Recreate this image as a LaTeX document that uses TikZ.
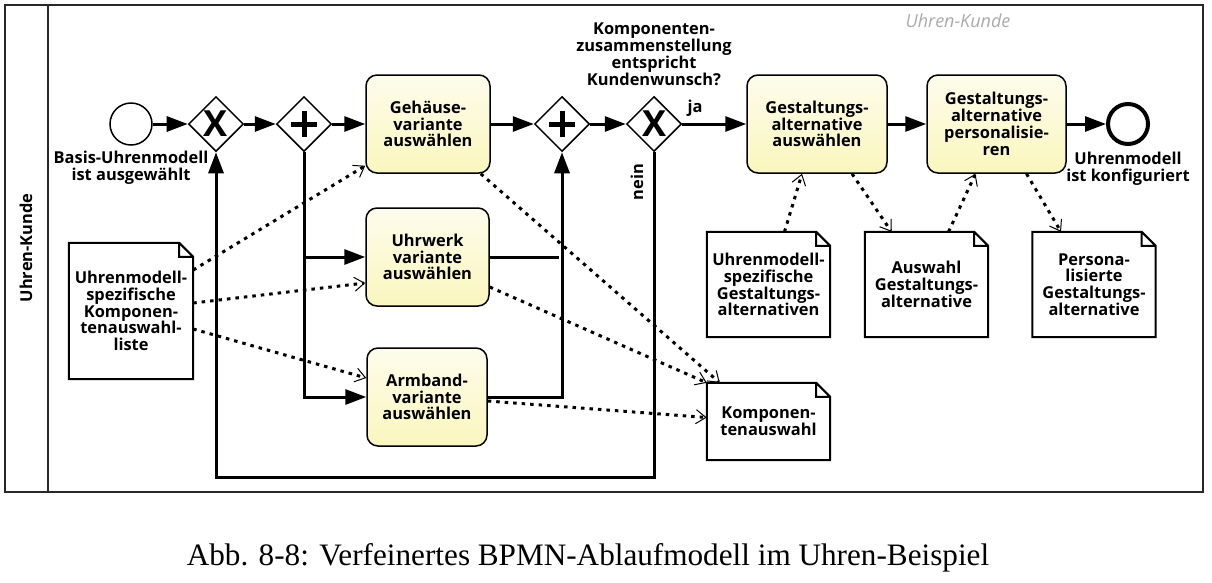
\documentclass[tikz,border=0pt]{standalone}
\usepackage{fontspec}
\setmainfont{Open Sans}
\newfontfamily\captionfont{Liberation Serif}
\usetikzlibrary{shapes.geometric,arrows.meta,positioning}
\definecolor{taskfill}{RGB}{250,246,190}
\definecolor{framegray}{RGB}{40,40,40}
\definecolor{markgray}{RGB}{170,170,170}

\begin{document}
\begin{tikzpicture}[x=1pt, y=-1pt, lbl/.style = {align=center, inner sep=0pt, font=\fontsize{16.4}{16.8}\selectfont\bfseries}, task/.style = {shape=rectangle, draw, line width=1.5pt, rounded corners=11pt, align=center, top color=taskfill!30, bottom color=taskfill, minimum width=124pt, minimum height=98pt, font=\fontsize{16.4}{16.8}\selectfont\bfseries}, gate/.style = {shape=diamond, draw, line width=1.5pt, fill=white, minimum width=55pt, minimum height=55pt, inner sep=0pt}, xorgate/.style = {gate, font=\fontsize{36}{36}\selectfont\bfseries}, andgate/.style = {gate, path picture={\draw[line width=5pt] ([xshift=-13pt]path picture bounding box.center) -- ([xshift=13pt]path picture bounding box.center) ([yshift=-13pt]path picture bounding box.center) -- ([yshift=13pt]path picture bounding box.center);}}, event/.style = {shape=circle, draw, fill=white, minimum size=42pt, inner sep=0pt}, doc/.style = {shape=rectangle, align=center, fill=white, minimum width=123pt, font=\fontsize{16.4}{16.8}\selectfont\bfseries}, docline/.style = {line width=2pt, line join=miter}, flow/.style = {line width=3pt, -{Triangle[length=21pt, width=15pt]}}, assoc/.style = {line width=3pt, dash pattern=on 3.5pt off 5pt, -{Straight Barb[length=10pt, width=14pt, line width=1pt]}}]
	\useasboundingbox (0,0) rectangle (1212,582);
	\draw[framegray, line width=2pt] (5,5) rectangle (1203,492);
	\draw[framegray, line width=2pt] (48,5) -- (48,492);
	\node[lbl, rotate=90] (lane) at (26,248) {Uhren-Kunde};
	\node[font=\fontsize{18}{18}\selectfont\itshape, text=markgray] (mark) at (958,21) {Uhren-Kunde};

	\node[event, line width=1.5pt] (start) at (131,124) {};
	\node[lbl, below=5pt of start] (startlbl) {Basis-Uhrenmodell\\ist ausgewählt};
	\node[xorgate] (x1) at (216,124) {X};
	\node[andgate] (a1) at (304,124) {};
	\node[task] (geh) at (428,124) {Gehäuse-\\variante\\auswählen};
	\node[task, minimum width=123pt] (uhr) at (427.5,257) {Uhrwerk\\variante\\auswählen};
	\node[task, minimum width=120pt] (arm) at (427,397) {Armband-\\variante\\auswählen};
	\node[andgate] (a2) at (562,124) {};
	\node[xorgate] (x2) at (654,124) {X};
	\node[lbl, above=10pt of x2] (frage) {Komponenten-\\zusammenstellung\\entspricht\\Kundenwunsch?};
	\node[task, minimum width=140pt] (g1) at (817,124) {Gestaltungs-\\alternative\\auswählen};
	\node[task, minimum width=139pt] (g2) at (996.5,124) {Gestaltungs-\\alternative\\personalisie-\\ren};
	\node[event, line width=4pt, minimum size=40pt] (endev) at (1128,124) {};
	\node[lbl, below=6pt of endev] (endlbl) {Uhrenmodell\\ist konfiguriert};

	\node[doc, minimum width=124pt, minimum height=136pt] (liste) at (131,311) {Uhrenmodell-\\spezifische\\Komponen-\\tenauswahl-\\liste};
	\node[doc, minimum height=77pt] (komp) at (768.5,421.5) {Komponen-\\tenauswahl};
	\node[doc, minimum height=105pt] (gsa) at (768.5,284.5) {Uhrenmodell-\\spezifische\\Gestaltungs-\\alternativen};
	\node[doc, minimum height=105pt] (wahl) at (926.5,284.5) {Auswahl\\Gestaltungs-\\alternative};
	\node[doc, minimum height=105pt] (pers) at (1094,284.5) {Persona-\\lisierte\\Gestaltungs-\\alternative};
	\foreach \d in {liste,komp,gsa,wahl,pers}
		\draw[docline] (\d.north west) -- ([xshift=-14pt]\d.north east) -- ([yshift=-14pt]\d.north east) -- (\d.south east) -- (\d.south west) -- cycle ([xshift=-14pt]\d.north east) |- ([yshift=-14pt]\d.north east);

	\draw[flow] (start) -- (x1);
	\draw[flow] (x1) -- (a1);
	\draw[flow] (a1) -- (geh);
	\draw[flow] (geh) -- (a2);
	\draw[flow] (a2) -- (x2);
	\draw[flow] (x2) -- node[lbl, pos=0.2, above=6pt] (ja) {ja} (g1);
	\draw[flow] (g1) -- (g2);
	\draw[flow] (g2) -- (endev);
	\draw[flow] (a1.south) |- (arm);
	\draw[flow] (a1.south |- uhr.west) -- (uhr);
	\draw[line width=3pt, shorten >=3pt] (uhr) -- (uhr -| a2.south);
	\draw[flow] (arm) -| (a2.south);
	\draw[flow] (x2.south) -- ++(0,325) -| (x1.south);
	\node[lbl, rotate=90] (nein) at (637,182) {nein};

	\draw[assoc] ([yshift=41pt]liste.east) -- ([yshift=8pt]geh.south west);
	\draw[assoc] ([yshift=8pt]liste.east) -- ([yshift=-26pt]uhr.west);
	\draw[assoc] ([yshift=-18pt]liste.east) -- ([yshift=19pt]arm.west);
	\draw[assoc] ([xshift=-10pt]geh.south east) -- ([xshift=13pt]komp.north west);
	\draw[assoc] ([yshift=-30pt]uhr.east) -- (komp.north west);
	\draw[assoc] ([yshift=-4pt]arm.east) -- ([yshift=4pt]komp.west);
	\draw[assoc] ([xshift=16pt]gsa.north) -- ([xshift=-15pt]g1.south);
	\draw[assoc] ([xshift=35pt]g1.south) -- ([xshift=-35pt]wahl.north);
	\draw[assoc] ([xshift=22pt]wahl.north) -- ([xshift=-21pt]g2.south);
	\draw[assoc] ([xshift=30pt]g2.south) -- ([xshift=-33pt]pers.north);

	\node[font=\captionfont\fontsize{31.2}{31.2}\selectfont] (caption) at (588,558) {Abb. 8-8: Verfeinertes BPMN-Ablaufmodell im Uhren-Beispiel};
\end{tikzpicture}
\end{document}
